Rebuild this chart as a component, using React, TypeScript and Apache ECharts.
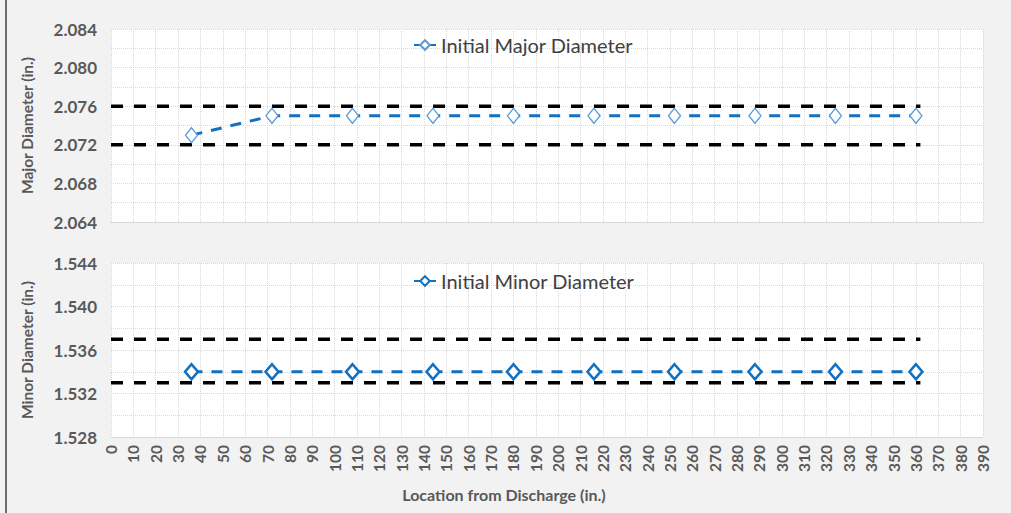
import React, { useEffect, useRef } from "react";
import * as echarts from "echarts";

const locations = [36, 72, 108, 144, 180, 216, 252, 288, 324, 360];
const majorValues = [2.073, 2.075, 2.075, 2.075, 2.075, 2.075, 2.075, 2.075, 2.075, 2.075];
const minorValues = [1.534, 1.534, 1.534, 1.534, 1.534, 1.534, 1.534, 1.534, 1.534, 1.534];
const limitX = [0, 362];
const majorUpper = [2.076, 2.076];
const majorLower = [2.072, 2.072];
const minorUpper = [1.537, 1.537];
const minorLower = [1.533, 1.533];

const FONT = "Lato, 'Liberation Sans', sans-serif";
const GRID = "#d9d9d9";
const BLUE = "#1470c0";

function pairs(xs: number[], ys: number[]) {
  return xs.map((x, i) => [x, ys[i]]);
}

export default function App() {
  const ref = useRef<HTMLDivElement>(null);
  useEffect(() => {
    document.body.style.margin = "0";
    const chart = echarts.init(ref.current!, undefined, { renderer: "svg" });
    const split = { show: true, lineStyle: { color: GRID, type: "dotted", width: 1 } };
    const xBase = {
      type: "value",
      min: 0,
      max: 390,
      interval: 10,
      splitLine: split,
      axisTick: { show: false },
      axisLine: { show: true, lineStyle: { color: GRID } },
    };
    const yBase = {
      type: "value",
      interval: 0.004,
      splitLine: split,
      minorTick: { show: false, splitNumber: 2 },
      minorSplitLine: split,
      axisTick: { show: false },
      axisLine: { show: false },
      axisLabel: {
        fontFamily: FONT,
        fontWeight: "bold",
        fontSize: 17,
        color: "#595959",
        margin: 14,
        formatter: (v: number) => v.toFixed(3),
      },
      nameLocation: "middle",
      nameGap: 76,
      nameTextStyle: { fontFamily: FONT, fontWeight: "bold", fontSize: 15.5, color: "#595959" },
    };
    const limitLine = (name: string, data: number[][], idx: number) => ({
      name,
      type: "line",
      xAxisIndex: idx,
      yAxisIndex: idx,
      data,
      symbol: "none",
      lineStyle: { color: "#000", width: 3.5, type: [12, 11] },
      silent: true,
    });
    const legendText = { fontFamily: FONT, fontSize: 20, color: "#404040" };
    const legendBase = {
      itemWidth: 22,
      itemHeight: 12,
      itemGap: 4,
      lineStyle: { type: "solid" },
      textStyle: legendText,
    };
    chart.setOption({
      animation: false,
      backgroundColor: "#f2f2f2",
      grid: [
        { left: 111, top: 29, width: 872, height: 193, show: true, backgroundColor: "#fff", borderWidth: 0 },
        { left: 111, top: 263, width: 872, height: 174, show: true, backgroundColor: "#fff", borderWidth: 0 },
      ],
      xAxis: [
        { ...xBase, gridIndex: 0, axisLabel: { show: false } },
        {
          ...xBase,
          gridIndex: 1,
          axisLabel: {
            rotate: 90,
            fontFamily: FONT,
            fontWeight: "bold",
            fontSize: 15.5,
            color: "#595959",
            margin: 8,
          },
        },
      ],
      yAxis: [
        { ...yBase, gridIndex: 0, min: 2.064, max: 2.084, name: "Major Diameter (in.)" },
        { ...yBase, gridIndex: 1, min: 1.528, max: 1.544, name: "Minor Diameter (in.)" },
      ],
      legend: [
        { ...legendBase, data: ["Initial Major Diameter"], left: 408, top: 30 },
        { ...legendBase, data: ["Initial Minor Diameter"], left: 408, top: 266 },
      ],
      graphic: [
        {
          type: "line",
          shape: { x1: 6, y1: 0, x2: 6, y2: 513 },
          style: { stroke: "#404040", lineWidth: 1.5 },
        },
        {
          type: "text",
          x: 504,
          y: 494,
          style: {
            text: "Location from Discharge (in.)",
            fontFamily: FONT,
            fontWeight: "bold",
            fontSize: 16,
            fill: "#595959",
            align: "center",
            verticalAlign: "middle",
          },
        },
      ],
      series: [
        limitLine("Major Upper Limit", pairs(limitX, majorUpper), 0),
        limitLine("Major Lower Limit", pairs(limitX, majorLower), 0),
        limitLine("Minor Upper Limit", pairs(limitX, minorUpper), 1),
        limitLine("Minor Lower Limit", pairs(limitX, minorLower), 1),
        {
          name: "Initial Major Diameter",
          type: "line",
          xAxisIndex: 0,
          yAxisIndex: 0,
          data: pairs(locations, majorValues),
          symbol: "diamond",
          symbolSize: [12, 15],
          lineStyle: { color: BLUE, width: 3, type: [11, 9] },
          itemStyle: { color: "#fff", borderColor: "#5b9bd5", borderWidth: 1.3 },
        },
        {
          name: "Initial Minor Diameter",
          type: "line",
          xAxisIndex: 1,
          yAxisIndex: 1,
          data: pairs(locations, minorValues),
          symbol: "diamond",
          symbolSize: [13, 15],
          lineStyle: { color: BLUE, width: 3, type: [11, 9] },
          itemStyle: { color: "#fff", borderColor: BLUE, borderWidth: 2.5 },
        },
      ],
    });
    return () => chart.dispose();
  }, []);
  return <div ref={ref} style={{ width: 1011, height: 513 }} />;
}
